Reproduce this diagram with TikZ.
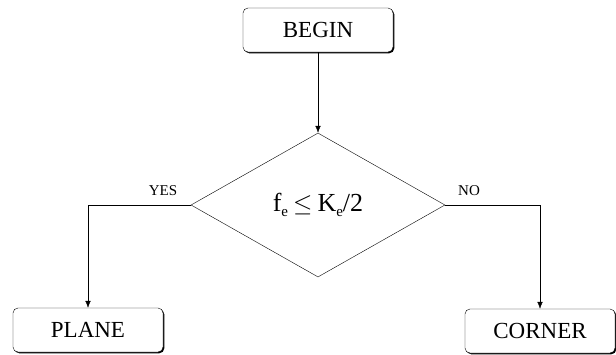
\documentclass[tikz,border=0pt]{standalone}
\usepackage{fontspec}
\setmainfont{Liberation Serif}
\usepackage{tikz}
\usetikzlibrary{shapes,arrows.meta,positioning,shadows}
\tikzstyle{block} = [draw, fill=white, rounded corners=5pt, minimum width=150pt, minimum height=44pt, inner sep=0pt, font=\fontsize{23}{25}\selectfont, drop shadow={shadow xshift=1.3pt, shadow yshift=-1.3pt, fill=black, opacity=1}]
\tikzstyle{decision} = [diamond, draw, minimum width=254pt, minimum height=144pt, inner sep=0pt, aspect=1.76]
\tikzstyle{line} = [draw, -{Latex[length=7pt, width=5.5pt]}]
\tikzstyle{tag} = [font=\fontsize{15}{16}\selectfont, inner sep=0pt]
\newcommand{\lowsub}[1]{\raisebox{-0.45ex}{\fontsize{15}{16}\selectfont #1}}

\begin{document}
\begin{tikzpicture}[x=1pt, y=-1pt]
			\useasboundingbox (0,0) rectangle (616,354);
			\node [block] (begin) at (318,30) {BEGIN};
			\node [decision] (test) at (318,205) {\fontsize{26}{28}\selectfont f\lowsub{e}\kern5pt$\leq$\kern5pt K\lowsub{e}/2};
			\node [block] (plane) at (88,330) {PLANE};
			\node [block] (corner) at (540,331) {CORNER};
			\node [tag] (yes) at (163,191) {YES};
			\node [tag] (no) at (469,191) {NO};
			
			\path [line] (begin) -- (test);
			\path [line] (test.west) -| (plane.north);
			\path [line] (test.east) -| (corner.north);
		\end{tikzpicture}
\end{document}
